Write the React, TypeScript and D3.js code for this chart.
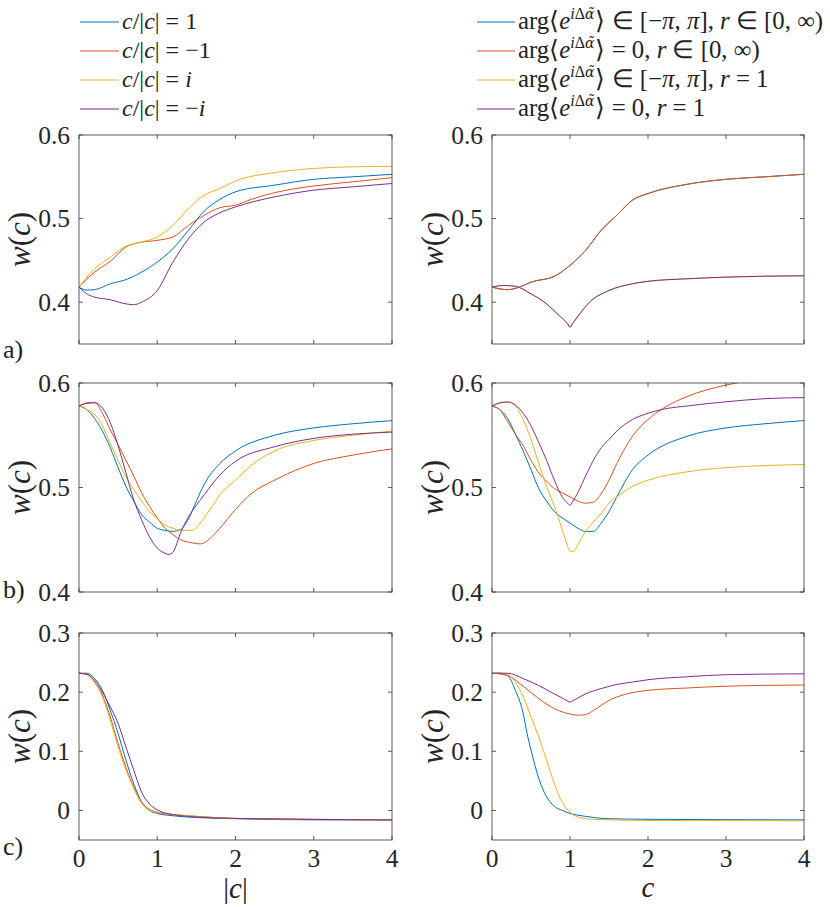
import React from "react";
import * as d3 from "d3";

type P = [number, number];

// ---------- data: panel a ----------
const aL_pos1: P[] = [[0,.418],[.1,.4145],[.2,.415],[.4,.422],[.6,.427],[.8,.436],[1,.448],[1.2,.464],[1.4,.486],[1.6,.509],[1.8,.523],[2,.532],[2.5,.540],[3,.547],[3.5,.550],[4,.553]];
const aL_neg1: P[] = [[0,.418],[.2,.436],[.4,.449],[.6,.466],[.75,.471],[1,.474],[1.2,.478],[1.4,.492],[1.6,.504],[1.8,.513],[2,.516],[2.2,.523],[2.5,.531],[3,.539],[3.5,.544],[4,.549]];
const aL_posI: P[] = [[0,.418],[.2,.44],[.4,.454],[.6,.467],[.8,.472],[1,.478],[1.2,.492],[1.4,.512],[1.6,.528],[1.8,.536],[2,.545],[2.5,.555],[3,.56],[3.5,.562],[4,.5625]];
const aL_negI: P[] = [[0,.418],[.1,.41],[.2,.406],[.4,.403],[.6,.398],[.7,.397],[.8,.40],[1,.414],[1.2,.448],[1.4,.476],[1.6,.496],[1.8,.507],[2,.514],[2.5,.526],[3,.534],[3.5,.538],[4,.542]];

const aR_upper: P[] = [[0,.418],[.2,.415],[.35,.418],[.5,.424],[.8,.431],[1,.444],[1.2,.462],[1.4,.486],[1.6,.504],[1.8,.522],[2,.53],[2.5,.541],[3,.547],[3.5,.55],[4,.553]];
const aR_lower: P[] = [[0,.418],[.15,.42],[.3,.419],[.5,.41],[.7,.398],[.85,.385],[.97,.374],[1,.37],[1.03,.374],[1.1,.383],[1.25,.40],[1.5,.414],[1.8,.422],[2,.425],[2.5,.428],[3,.43],[4,.4316]];

// ---------- data: panel b ----------
const bL_pos1: P[] = [[0,.578],[.1,.5745],[.2,.566],[.3,.554],[.4,.538],[.5,.519],[.6,.501],[.7,.487],[.8,.474],[.9,.467],[1,.461],[1.1,.459],[1.2,.458],[1.3,.46],[1.4,.47],[1.5,.487],[1.6,.503],[1.8,.523],[2,.535],[2.5,.55],[3,.557],[3.5,.561],[4,.564]];
const bL_neg1: P[] = [[0,.578],[.1,.581],[.2,.5815],[.3,.571],[.4,.555],[.5,.541],[.6,.526],[.7,.511],[.8,.495],[.9,.482],[1,.471],[1.1,.461],[1.2,.455],[1.3,.45],[1.45,.447],[1.55,.446],[1.7,.453],[1.8,.461],[2,.479],[2.2,.494],[2.5,.507],[3,.523],[3.5,.531],[4,.537]];
const bL_posI: P[] = [[0,.578],[.1,.5745],[.2,.57],[.3,.559],[.4,.542],[.5,.526],[.6,.51],[.7,.498],[.8,.487],[.9,.477],[1,.47],[1.1,.464],[1.2,.461],[1.3,.459],[1.45,.459],[1.55,.466],[1.7,.482],[1.8,.493],[2,.507],[2.2,.521],[2.5,.535],[3,.545],[3.5,.55],[4,.554]];
const bL_negI: P[] = [[0,.578],[.1,.5805],[.2,.581],[.3,.576],[.4,.562],[.5,.54],[.6,.514],[.7,.488],[.8,.469],[.9,.453],[1,.442],[1.1,.437],[1.15,.436],[1.2,.438],[1.3,.457],[1.4,.472],[1.5,.483],[1.6,.493],[1.8,.512],[2,.525],[2.5,.539],[3,.547],[3.5,.551],[4,.553]];

const bR_full: P[] = [[0,.578],[.1,.5745],[.2,.566],[.3,.551],[.4,.535],[.5,.517],[.6,.499],[.7,.487],[.8,.477],[.9,.471],[1,.466],[1.1,.461],[1.2,.458],[1.3,.458],[1.4,.466],[1.5,.477],[1.6,.491],[1.8,.517],[2,.531],[2.5,.549],[3,.557],[3.5,.561],[4,.564]];
const bR_arg0: P[] = [[0,.578],[.1,.5745],[.2,.563],[.3,.551],[.4,.54],[.5,.526],[.6,.514],[.7,.506],[.8,.499],[.9,.495],[1,.491],[1.1,.487],[1.2,.485],[1.3,.486],[1.4,.494],[1.5,.507],[1.6,.523],[1.7,.537],[1.8,.549],[2,.565],[2.2,.576],[2.5,.587],[3,.598],[3.5,.604],[4,.608]];
const bR_r1: P[] = [[0,.578],[.1,.581],[.2,.5815],[.3,.578],[.4,.565],[.5,.546],[.6,.523],[.7,.501],[.8,.482],[.9,.46],[.97,.444],[1,.439],[1.05,.439],[1.1,.445],[1.2,.458],[1.3,.467],[1.4,.475],[1.5,.485],[1.6,.491],[1.8,.501],[2,.507],[2.5,.515],[3,.519],[3.5,.521],[4,.522]];
const bR_arg0r1: P[] = [[0,.578],[.1,.581],[.2,.582],[.3,.579],[.4,.571],[.5,.559],[.6,.543],[.7,.526],[.8,.507],[.9,.491],[.97,.485],[1,.483],[1.03,.486],[1.1,.495],[1.2,.511],[1.3,.526],[1.4,.538],[1.5,.546],[1.6,.554],[1.8,.565],[2,.571],[2.2,.575],[2.5,.578],[3,.582],[3.5,.585],[4,.586]];

// ---------- data: panel c ----------
const cL_pos1: P[] = [[0,.232],[.1,.232],[.2,.223],[.3,.203],[.4,.169],[.5,.13],[.6,.085],[.7,.045],[.8,.014],[.9,0],[1,-.005],[1.2,-.009],[1.5,-.012],[2,-.014],[3,-.016],[4,-.016]];
const cL_neg1: P[] = [[0,.232],[.1,.23],[.2,.217],[.3,.195],[.4,.158],[.5,.113],[.6,.073],[.7,.039],[.8,.014],[.9,.002],[1,-.003],[1.2,-.007],[1.5,-.01],[2,-.0135],[3,-.015],[4,-.016]];
const cL_posI: P[] = [[0,.232],[.1,.23],[.2,.216],[.3,.192],[.4,.152],[.5,.107],[.6,.068],[.7,.037],[.8,.012],[.9,.001],[1,-.003],[1.5,-.01],[2,-.0135],[4,-.016]];
const cL_negI: P[] = [[0,.232],[.1,.23],[.2,.22],[.3,.2],[.4,.175],[.5,.147],[.6,.107],[.7,.068],[.8,.031],[.9,.011],[1,.001],[1.2,-.007],[1.5,-.011],[2,-.0135],[4,-.016]];

const cR_full: P[] = [[0,.232],[.1,.232],[.2,.228],[.3,.203],[.4,.164],[.45,.13],[.5,.102],[.6,.054],[.7,.023],[.8,.007],[.9,0],[1,-.005],[1.2,-.01],[1.5,-.014],[2,-.015],[4,-.016]];
const cR_arg0: P[] = [[0,.232],[.2,.228],[.4,.21],[.6,.189],[.8,.172],[1,.163],[1.1,.161],[1.2,.162],[1.3,.169],[1.5,.186],[1.7,.196],[2,.203],[2.5,.207],[3,.21],[3.5,.2115],[4,.212]];
const cR_r1: P[] = [[0,.232],[.1,.232],[.2,.23],[.3,.217],[.4,.192],[.5,.158],[.6,.124],[.7,.085],[.8,.045],[.9,.014],[1,-.003],[1.1,-.011],[1.3,-.015],[2,-.017],[4,-.0175]];
const cR_arg0r1: P[] = [[0,.232],[.2,.232],[.4,.223],[.6,.211],[.8,.197],[.9,.19],[.97,.185],[1,.183],[1.03,.185],[1.1,.19],[1.2,.197],[1.4,.206],[1.6,.213],[1.8,.217],[2,.221],[2.5,.226],[3,.2295],[4,.231]];

// ---------- ticks / labels ----------
const xTicks = [0, 1, 2, 3, 4];
const yTicksAB = [0.4, 0.5, 0.6];
const yTicksC = [0, 0.1, 0.2, 0.3];
const panelLetters = ["a)", "b)", "c)"];
const leftLegend = ["1", "\u22121", "i", "\u2212i"];
const colors = ["#0072BD", "#D95319", "#EDB120", "#7E2F8E"];

const CSS = `
#wchart text, #wchart tspan { font-family: "Liberation Serif", "Times New Roman", serif !important; font-style: normal !important; }
#wchart tspan.it, #wchart text.it { font-style: italic !important; }
#wchart tspan.dv { font-family: "DejaVu Serif", serif !important; font-style: italic !important; }
`;

const cols = [
  { x0: 79, x1: 392 },
  { x0: 492, x1: 804 },
];
const rows = [
  { y0: 135, y1: 344, dom: [0.35, 0.6], ticks: yTicksAB },
  { y0: 383, y1: 592, dom: [0.4, 0.6], ticks: yTicksAB },
  { y0: 633, y1: 840, dom: [-0.05, 0.3], ticks: yTicksC },
];

const seriesGrid: P[][][][] = [
  [
    [aL_pos1, aL_neg1, aL_posI, aL_negI],
    [aR_upper, aR_upper, aR_lower, aR_lower],
  ],
  [
    [bL_pos1, bL_neg1, bL_posI, bL_negI],
    [bR_full, bR_arg0, bR_r1, bR_arg0r1],
  ],
  [
    [cL_pos1, cL_neg1, cL_posI, cL_negI],
    [cR_full, cR_arg0, cR_r1, cR_arg0r1],
  ],
];

function Panel({ ri, ci }: { ri: number; ci: number }) {
  const r = rows[ri];
  const c = cols[ci];
  const x = d3.scaleLinear().domain([0, 4]).range([c.x0, c.x1]);
  const y = d3.scaleLinear().domain(r.dom).range([r.y1, r.y0]);
  const line = d3
    .line<P>()
    .x((d) => x(d[0]))
    .y((d) => y(d[1]))
    .curve(d3.curveMonotoneX);
  const clipId = `clip-${ri}-${ci}`;
  const axisColor = "#333";
  const tl = 4;
  const fmt = (v: number) => (Math.abs(v) < 1e-9 ? "0" : d3.format(".1f")(v));
  return (
    <g>
      <defs>
        <clipPath id={clipId}>
          <rect x={c.x0} y={r.y0} width={c.x1 - c.x0} height={r.y1 - r.y0} />
        </clipPath>
      </defs>
      <g clipPath={`url(#${clipId})`}>
        {seriesGrid[ri][ci].map((s, k) => (
          <path key={k} d={line(s) || ""} fill="none" stroke={colors[k]} strokeWidth={1} />
        ))}
      </g>
      <rect
        x={c.x0}
        y={r.y0}
        width={c.x1 - c.x0}
        height={r.y1 - r.y0}
        fill="none"
        stroke={axisColor}
        strokeWidth={0.8}
      />
      {xTicks.map((t) => (
        <g key={"x" + t}>
          <line x1={x(t)} x2={x(t)} y1={r.y1} y2={r.y1 - tl} stroke={axisColor} strokeWidth={0.8} />
          <line x1={x(t)} x2={x(t)} y1={r.y0} y2={r.y0 + tl} stroke={axisColor} strokeWidth={0.8} />
          {ri === 2 && (
            <text x={x(t)} y={r.y1 + 27} textAnchor="middle" fontSize={25.5} fill="#262626">
              {t}
            </text>
          )}
        </g>
      ))}
      {r.ticks.map((t) => (
        <g key={"y" + t}>
          <line x1={c.x0} x2={c.x0 + tl} y1={y(t)} y2={y(t)} stroke={axisColor} strokeWidth={0.8} />
          <line x1={c.x1} x2={c.x1 - tl} y1={y(t)} y2={y(t)} stroke={axisColor} strokeWidth={0.8} />
          <text x={c.x0 - 9} y={y(t) + 8.5} textAnchor="end" fontSize={25.5} fill="#262626">
            {fmt(t)}
          </text>
        </g>
      ))}
      <text
        transform={`translate(${c.x0 - 49},${(r.y0 + r.y1) / 2}) rotate(-90)`}
        textAnchor="middle"
        fontSize={31}
        fill="#262626"
      >
        <tspan className="it">w</tspan>(<tspan className="it">c</tspan>)
      </text>
    </g>
  );
}

export default function App() {
  const legendRows = [22, 51, 80, 109];
  return (
    <svg
      id="wchart"
      width={830}
      height={907}
      style={{ position: "absolute", left: 0, top: 0, background: "#fff" }}
    >
      <style>{CSS}</style>
      <rect width={830} height={907} fill="#fff" />
      {/* left legend */}
      {legendRows.map((ly, k) => (
        <g key={"ll" + k}>
          <line x1={80} x2={119} y1={ly} y2={ly} stroke={colors[k]} strokeWidth={1} />
          <text x={122} y={ly + 7} fontSize={24} fill="#222">
            <tspan className="it">c</tspan>/|<tspan className="it">c</tspan>|{" = "}
            {leftLegend[k] === "i" ? (
              <tspan className="it">i</tspan>
            ) : leftLegend[k] === "\u2212i" ? (
              <>
                {"\u2212"}
                <tspan className="it">i</tspan>
              </>
            ) : (
              leftLegend[k]
            )}
          </text>
        </g>
      ))}
      {/* right legend */}
      {legendRows.map((ly, k) => {
        const argFull = k === 0 || k === 2;
        const rFull = k === 0 || k === 1;
        return (
          <g key={"rl" + k}>
            <line x1={477} x2={515} y1={ly} y2={ly} stroke={colors[k]} strokeWidth={1} />
            <text x={518} y={ly + 7} fontSize={24.8} fill="#222">
              arg{"\u27E8"}
              <tspan className="it">e</tspan>
              <tspan dy={-10} fontSize={16}>
                <tspan className="it">i</tspan>Δ<tspan className="dv" fontSize={14}>{"\u03B1\u0303"}</tspan>
              </tspan>
              <tspan dy={10} dx={1}>{"\u27E9"}</tspan>
              {argFull ? (
                <>
                  {" \u2208 [\u2212"}
                  <tspan className="it">π</tspan>,{" "}
                  <tspan className="it">π</tspan>],{" "}
                </>
              ) : (
                <>{" = 0, "}</>
              )}
              <tspan className="it">r</tspan>
              {rFull ? <>{" \u2208 [0, \u221E)"}</> : <>{" = 1"}</>}
            </text>
          </g>
        );
      })}
      {rows.map((_, ri) =>
        cols.map((_, ci) => <Panel key={ri + "-" + ci} ri={ri} ci={ci} />)
      )}
      {/* panel letters */}
      {panelLetters.map((l, i) => (
        <text key={l} x={3} y={[358, 598, 855][i]} fontSize={26} fill="#222">
          {l}
        </text>
      ))}
      {/* x labels */}
      <text x={(cols[0].x0 + cols[0].x1) / 2} y={898} textAnchor="middle" fontSize={29} fill="#222">
        |<tspan className="it">c</tspan>|
      </text>
      <text x={(cols[1].x0 + cols[1].x1) / 2} y={897} textAnchor="middle" fontSize={29} fill="#222">
        <tspan className="it">c</tspan>
      </text>
    </svg>
  );
}
